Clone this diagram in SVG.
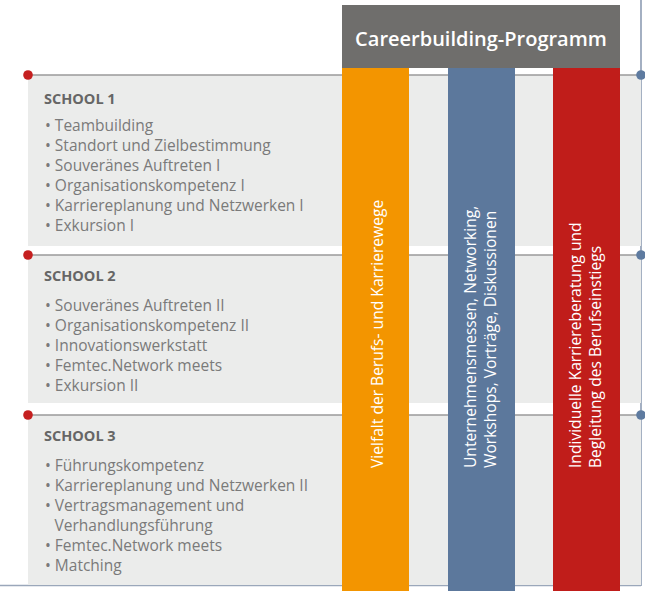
<svg xmlns="http://www.w3.org/2000/svg" width="645" height="591" viewBox="0 0 645 591">
<style>
.panel{fill:#ebeceb}
.hline{stroke:#9a9a9a;stroke-width:1.6;fill:none}
.rdot{fill:#c51f1f}
.bdot{fill:#5e7ba0}
.head{font-family:"Open Sans","Liberation Sans",sans-serif;font-weight:700;font-size:14.5px;fill:#666666}
.item{font-family:"Open Sans","Liberation Sans",sans-serif;font-size:15.5px;fill:#7a7a7a}
.bar{font-family:"Open Sans","Liberation Sans",sans-serif;font-size:15.6px;fill:#ffffff}
.title{font-family:"Open Sans","Liberation Sans",sans-serif;font-weight:600;font-size:20px;fill:#ffffff}
</style>
<rect width="645" height="591" fill="#ffffff"/>
<g id="frame">
<line x1="641" y1="0" x2="641" y2="586" stroke="#8d9cb3" stroke-width="1.6"/>
<line x1="0" y1="585.5" x2="641" y2="585.5" stroke="#9aa7ba" stroke-width="1.6"/>
</g>
<g id="school1">
<rect class="panel" x="28" y="75" width="613" height="171"/>
<text class="head" x="44" y="104">SCHOOL 1</text>
<text class="item" x="45" y="131">• Teambuilding</text>
<text class="item" x="45" y="151">• Standort und Zielbestimmung</text>
<text class="item" x="45" y="171">• Souveränes Auftreten I</text>
<text class="item" x="45" y="191">• Organisationskompetenz I</text>
<text class="item" x="45" y="211">• Karriereplanung und Netzwerken I</text>
<text class="item" x="45" y="231">• Exkursion I</text>
</g>
<g id="school2">
<rect class="panel" x="28" y="255" width="613" height="148"/>
<text class="head" x="44" y="281">SCHOOL 2</text>
<text class="item" x="45" y="311">• Souveränes Auftreten II</text>
<text class="item" x="45" y="331">• Organisationskompetenz II</text>
<text class="item" x="45" y="351">• Innovationswerkstatt</text>
<text class="item" x="45" y="371">• Femtec.Network meets</text>
<text class="item" x="45" y="391">• Exkursion II</text>
</g>
<g id="school3">
<rect class="panel" x="28" y="415" width="613" height="170"/>
<text class="head" x="44" y="441">SCHOOL 3</text>
<text class="item" x="45" y="471">• Führungskompetenz</text>
<text class="item" x="45" y="491">• Karriereplanung und Netzwerken II</text>
<text class="item" x="45" y="511">• Vertragsmanagement und</text>
<text class="item" x="54.5" y="531">Verhandlungsführung</text>
<text class="item" x="45" y="551">• Femtec.Network meets</text>
<text class="item" x="45" y="571">• Matching</text>
</g>
<g id="connectors">
<line class="hline" x1="28" y1="75" x2="641" y2="75"/>
<line class="hline" x1="28" y1="255" x2="641" y2="255"/>
<line class="hline" x1="28" y1="415" x2="641" y2="415"/>
<circle class="rdot" cx="28" cy="75" r="4.8"/>
<circle class="rdot" cx="28" cy="255" r="4.8"/>
<circle class="rdot" cx="28" cy="415" r="4.8"/>
<circle class="bdot" cx="641" cy="75" r="4.8"/>
<circle class="bdot" cx="641" cy="255" r="4.8"/>
<circle class="bdot" cx="641" cy="415" r="4.8"/>
</g>
<g id="header">
<rect x="342" y="5" width="278" height="63" fill="#6f6e6c"/>
<text class="title" x="481" y="46" text-anchor="middle">Careerbuilding-Programm</text>
</g>
<g id="bar-orange">
<rect x="342" y="68" width="67" height="523" fill="#f39500"/>
<text class="bar" transform="translate(383,468) rotate(-90)">Vielfalt der Berufs- und Karrierewege</text>
</g>
<g id="bar-blue">
<rect x="448" y="68" width="67" height="523" fill="#5c789c"/>
<text class="bar" transform="translate(476,468) rotate(-90)">Unternehmensmessen, Networking,</text>
<text class="bar" transform="translate(496,468) rotate(-90)">Workshops, Vorträge, Diskussionen</text>
</g>
<g id="bar-red">
<rect x="553" y="68" width="67" height="523" fill="#c01d1a"/>
<text class="bar" transform="translate(581,468) rotate(-90)">Individuelle Karriereberatung und</text>
<text class="bar" transform="translate(601,468) rotate(-90)">Begleitung des Berufseinstiegs</text>
</g>
</svg>
